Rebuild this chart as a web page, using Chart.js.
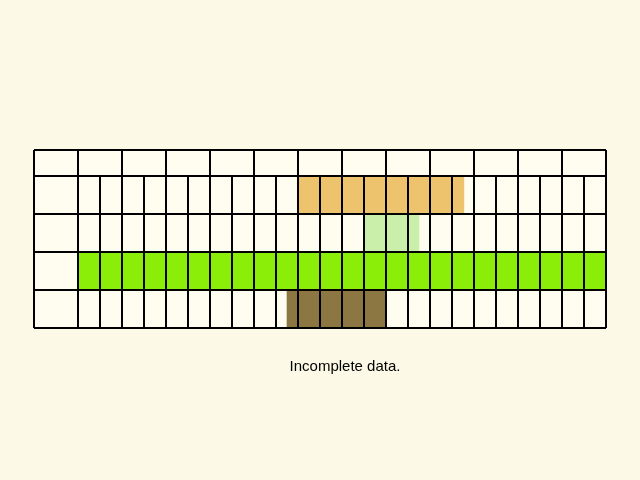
<!DOCTYPE html>
<html>
<head>
<meta charset="utf-8">
<script src="https://cdn.jsdelivr.net/npm/chart.js@4"></script>
<style>
body { margin: 0; background: #FCFAE6; }
#wrap { position: relative; width: 640px; height: 480px; }
#note { position: absolute; left: 0; width: 690px; top: 357px; text-align: center; font: 15px "Liberation Sans", Arial, sans-serif; color: #000; }
</style>
</head>
<body>
<div id="wrap">
<canvas id="chart" width="640" height="480"></canvas>
<div id="note">Incomplete data.</div>
</div>
<script>
// months on x (0 = start of Jan), stages on y
const months = ['Jan', 'Feb', 'Mar', 'April', 'May', 'June', 'July', 'Aug', 'Sept', 'Oct', 'Nov', 'Dec'];
const stages = ['Imago', 'Ova', 'Larva', 'Pupa'];

const imagoLight = [5.0, 8.77];
const imagoDark = [5.23, 7.16];
const ovaRange = [6.52, 7.75];
const larvaRange = [0, 12];
const larvaPale = [6.66, 6.9];
const pupaRange = [4.75, 7.0];

const LABEL_W = 44, HEAD_H = 26;

const tableLines = {
    id: 'tableLines',
    afterDatasetsDraw(chart) {
        const c = chart.ctx, a = chart.chartArea, x = chart.scales.x, y = chart.scales.y;
        const left = a.left - LABEL_W, top = a.top - HEAD_H;
        c.save();
        c.strokeStyle = '#000';
        c.lineWidth = 2;
        c.beginPath();
        // horizontal
        const rows = [top, a.top];
        for (let i = 0; i < stages.length; i++) rows.push(y.getPixelForValue(i) + y.height / stages.length / 2);
        rows.forEach(py => { c.moveTo(left, py); c.lineTo(a.right, py); });
        // vertical
        c.moveTo(left, top); c.lineTo(left, a.bottom);
        for (let v = 0; v <= 12; v += 0.5) {
            const px = x.getPixelForValue(v);
            c.moveTo(px, v % 1 === 0 ? top : a.top);
            c.lineTo(px, a.bottom);
        }
        c.stroke();
        c.restore();
    }
};

const bg = {
    id: 'bg',
    beforeDatasetsDraw(chart) {
        const a = chart.chartArea, c = chart.ctx;
        c.save();
        c.fillStyle = '#FFFDF0';
        c.fillRect(a.left - LABEL_W, a.top - HEAD_H, a.right - a.left + LABEL_W, a.bottom - a.top + HEAD_H);
        c.restore();
    }
};

function bar(row, range, color) {
    return { data: [{ x: range, y: stages[row] }], backgroundColor: color, borderWidth: 0,
             barPercentage: 1, categoryPercentage: 1, grouped: false };
}

new Chart(document.getElementById('chart'), {
    type: 'bar',
    data: {
        labels: stages,
        datasets: [
            bar(0, imagoLight, '#EEC36E'),
            bar(0, imagoDark, '#D7A159'),
            bar(1, ovaRange, '#C9EFAA'),
            bar(2, larvaRange, '#8BEE08'),
            bar(2, larvaPale, '#BDF22A'),
            bar(3, pupaRange, '#8C7743')
        ]
    },
    options: {
        indexAxis: 'y',
        responsive: false,
        animation: false,
        layout: { padding: { left: 34, top: 150, right: 34, bottom: 152 } },
        plugins: { legend: { display: false }, tooltip: { enabled: false } },
        scales: {
            x: {
                type: 'linear', position: 'top', min: 0, max: 12,
                grid: { display: false }, border: { display: false },
                afterFit(s) { s.height = HEAD_H; },
                ticks: {
                    stepSize: 0.5, autoSkip: false, maxRotation: 0, padding: 6,
                    color: '#000', font: { family: 'Liberation Sans', size: 12 },
                    callback: v => (v % 1 === 0.5 ? months[Math.floor(v)] : '')
                }
            },
            y: {
                grid: { display: false }, border: { display: false },
                afterFit(s) { s.width = LABEL_W; },
                ticks: {
                    crossAlign: 'far', padding: 4,
                    color: '#000', font: { family: 'Liberation Sans', size: 12 }
                }
            }
        }
    },
    plugins: [bg, tableLines]
});
</script>
</body>
</html>
